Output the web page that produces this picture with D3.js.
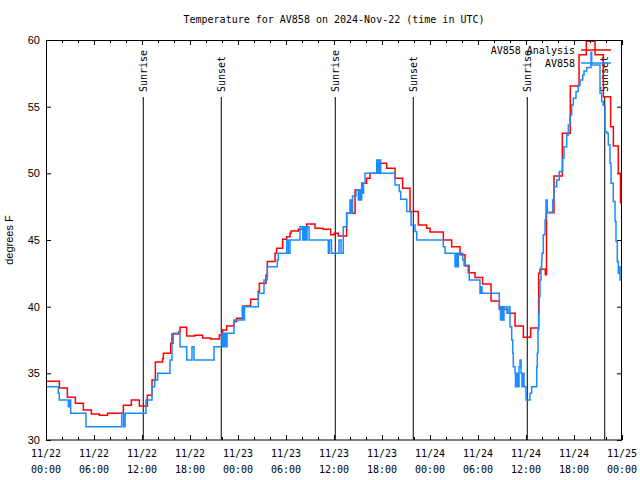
<!DOCTYPE html>
<html><head><meta charset="utf-8">
<script src="https://cdn.jsdelivr.net/npm/d3@7"></script>
<style>body{margin:0;background:#fff}svg{display:block}</style>
</head><body>
<svg id="chart" width="640" height="480"></svg>
<script>
const titleText = "Temperature for AV858 on 2024-Nov-22 (time in UTC)";
const yAxisLabel = "degrees F";
const seriesNames = ["AV858 Analysis", "AV858"];
const seriesColors = ["#ff0000", "#1a8cff"];
const startUTC = Date.UTC(2024, 10, 22);
const spanHours = 72;

// hours after 2024-11-22 00:00 UTC, step-after values (deg F)
const analysisHours = [0,1.67,2.67,3.67,4.67,5.67,6.67,7.7,9.67,10.67,11.67,12.67,13.25,13.67,14.58,14.67,15.58,15.75,16.58,16.75,17.58,18.6,19.58,20.6,21.67,22.08,22.58,23.5,23.83,24.58,25.58,26.54,26.67,27.5,27.67,28.63,28.83,29.58,30.08,30.5,30.63,31.54,32.58,33.63,34.63,35.58,36.0,36.54,37.58,38.63,39.46,40.08,40.5,41.75,42.58,43.63,44.58,45.5,46.54,47.58,48.0,49.67,50.71,51.75,52.38,52.79,53.63,54.58,55.63,56.67,57.67,58.63,59.67,60.58,61.58,61.75,62.42,62.56,63.5,64.54,65.54,66.63,67.54,68.63,69.67,70.58,70.92,71.54,71.81,72];
const analysisTemps = [34.4,33.9,33.2,32.75,32.25,31.95,31.85,32.0,32.6,33.0,32.55,33.35,34.5,35.85,36.1,36.5,37.25,37.95,38.1,38.45,37.8,37.85,37.65,37.58,37.88,38.25,38.55,38.88,39.13,40.05,40.55,41.13,41.75,42.38,43.38,44.0,44.38,45.05,45.25,45.5,45.68,45.8,46.2,45.88,45.8,45.4,45.5,45.3,47.0,48.75,49.25,49.63,50.0,50.75,50.38,49.63,48.88,47.13,46.13,45.88,45.6,45.0,44.5,43.9,43.05,42.55,42.18,41.7,40.43,39.8,39.5,38.55,37.7,38.4,42.5,42.8,42.4,47.05,49.8,53.0,56.55,58.9,59.9,58.9,55.75,53.5,52.05,50.0,47.8,47.8];

const obsHours = [0,1.54,1.66,2.79,2.94,3.09,5.0,9.46,9.69,9.88,12.5,13.25,13.59,13.96,15.5,15.75,15.91,16.75,17.59,18.25,18.5,21.0,22.0,22.13,22.31,22.5,22.63,23.5,24.54,24.69,24.81,26.54,27.25,27.66,28.91,29.04,30.09,30.29,30.5,31.75,32.09,32.25,32.44,32.63,32.88,35.29,35.44,35.69,36.63,36.88,37.16,37.59,38.0,38.13,38.31,38.75,39.04,39.19,39.38,39.46,39.56,39.69,39.88,41.34,41.5,41.63,41.84,43.63,44.16,44.34,45.09,45.63,46.13,46.34,49.66,49.88,51.13,51.31,51.44,51.54,52.09,52.25,52.91,54.25,54.38,54.5,56.66,56.81,56.94,57.13,57.25,57.63,57.88,58.0,58.21,58.34,58.41,58.63,58.69,58.88,59.04,59.13,59.25,59.38,59.5,59.63,59.75,60.0,60.5,60.71,61.34,61.41,61.5,61.59,61.66,61.75,61.88,61.96,62.0,62.16,62.38,62.5,62.66,63.34,63.5,63.84,64.16,64.59,64.75,65.09,65.29,65.5,65.71,65.91,66.25,66.54,66.75,67.09,67.25,67.59,68.13,68.21,69.25,69.46,69.66,69.88,70.09,70.29,70.5,70.63,70.91,71.13,71.25,71.41,71.54,71.63,71.75,71.85];
const obsTemps = [34.0,33.5,33.0,32.5,33.0,32.0,31.0,32.0,31.0,32.0,33.0,34.0,34.5,35.0,36.0,37.25,38.0,37.0,36.0,37.0,36.0,37.0,38.0,37.0,38.0,37.0,38.0,39.0,40.0,39.0,40.0,41.0,42.0,43.0,43.5,44.0,45.0,44.0,45.0,46.0,45.0,46.0,45.0,46.0,45.0,44.0,45.0,44.0,45.0,44.0,46.0,47.0,48.0,47.0,48.3,48.75,48.0,48.75,48.0,49.25,48.5,49.25,50.0,51.0,50.0,51.0,50.0,49.13,48.63,48.05,47.13,46.13,45.63,45.0,44.5,44.0,43.0,44.0,43.0,44.0,43.5,43.1,42.0,41.0,41.5,41.0,40.0,39.0,40.0,39.0,40.0,39.5,40.0,38.5,37.5,36.5,35.5,35.0,34.0,35.0,34.0,35.5,36.0,35.0,34.0,35.0,34.0,33.0,33.5,34.0,35.5,36.5,38.25,39.5,40.75,42.0,43.0,43.5,44.0,45.4,46.5,48.0,47.08,48.0,49.0,49.5,50.13,51.13,52.0,52.88,53.63,54.38,55.13,55.63,56.13,56.63,57.0,57.38,57.68,57.93,59.08,58.13,56.0,55.38,55.08,53.13,53.0,52.13,50.75,49.25,47.88,46.38,44.88,43.38,42.5,43.0,42.0,42.0];

const sunHours = [12.16, 21.91, 36.16, 45.91, 60.16, 69.84];
const sunLabels = ["Sunrise", "Sunset", "Sunrise", "Sunset", "Sunrise", "Sunset"];
const yTickValues = [30, 35, 40, 45, 50, 55, 60];
const majorStepHours = 6;
const minorStepHours = 2;

const toDate = h => new Date(startUTC + h * 3600e3);
const svg = d3.select("#chart");
const mono = "'DejaVu Sans Mono', 'Liberation Mono', monospace";
const sans = "'Liberation Sans', Arial, sans-serif";

const x = d3.scaleUtc().domain([toDate(0), toDate(spanHours)]).range([46, 622]);
const y = d3.scaleLinear().domain([30, 60]).range([440, 40]);

const majorTicks = d3.range(0, spanHours + 0.001, majorStepHours).map(toDate);
const minorTicks = d3.range(0, spanHours + 0.001, minorStepHours).filter(h => h % majorStepHours !== 0).map(toDate);

// Title
svg.append("text").attr("x", 334).attr("y", 23).attr("text-anchor", "middle")
  .style("font-family", mono).style("font-size", "10px").text(titleText);

// Y label
svg.append("text").attr("transform", "translate(13,240) rotate(-90)").attr("text-anchor", "middle")
  .style("font-family", sans).style("font-size", "11px").text(yAxisLabel);

// Axes
function styleAxis(g) { g.select(".domain").remove(); g.selectAll("line").attr("stroke", "#000"); }
const gB = svg.append("g").attr("transform", "translate(0,440)")
  .call(d3.axisBottom(x).tickValues(majorTicks).tickSizeInner(-5).tickSizeOuter(0).tickFormat(""));
styleAxis(gB);
const gBm = svg.append("g").attr("transform", "translate(0,440)")
  .call(d3.axisBottom(x).tickValues(minorTicks).tickSizeInner(-3).tickSizeOuter(0).tickFormat(""));
styleAxis(gBm);
const gT = svg.append("g").attr("transform", "translate(0,40)")
  .call(d3.axisTop(x).tickValues(majorTicks).tickSizeInner(-5).tickSizeOuter(0).tickFormat(""));
styleAxis(gT);
const gTm = svg.append("g").attr("transform", "translate(0,40)")
  .call(d3.axisTop(x).tickValues(minorTicks).tickSizeInner(-3).tickSizeOuter(0).tickFormat(""));
styleAxis(gTm);
const gL = svg.append("g").attr("transform", "translate(46,0)")
  .call(d3.axisLeft(y).tickValues(yTickValues).tickSizeInner(-5).tickSizeOuter(0).tickPadding(6));
styleAxis(gL);
gL.selectAll("text").style("font-family", sans).style("font-size", "11px").attr("fill", "#000");
const gR = svg.append("g").attr("transform", "translate(622,0)")
  .call(d3.axisRight(y).tickValues(yTickValues).tickSizeInner(-5).tickSizeOuter(0).tickFormat(""));
styleAxis(gR);

// x tick labels (two lines)
const fmtDay = d3.utcFormat("%m/%d"), fmtTime = d3.utcFormat("%H:%M");
svg.append("g").selectAll("text").data(majorTicks).join("text")
  .attr("x", d => x(d)).attr("y", 457).attr("text-anchor", "middle")
  .style("font-family", mono).style("font-size", "10px")
  .each(function(d) {
    const t = d3.select(this);
    t.append("tspan").attr("x", x(d)).attr("y", 457).text(fmtDay(d));
    t.append("tspan").attr("x", x(d)).attr("y", 473).text(fmtTime(d));
  });

// Sun lines and labels
const sun = svg.append("g");
sun.selectAll("line").data(sunHours).join("line")
  .attr("x1", d => x(toDate(d))).attr("x2", d => x(toDate(d)))
  .attr("y1", 97).attr("y2", 440).attr("stroke", "#000").attr("stroke-width", 1);
sun.selectAll("text").data(sunHours).join("text")
  .attr("transform", d => `translate(${x(toDate(d))},92) rotate(-90)`)
  .attr("dy", "0.35em").attr("text-anchor", "start")
  .style("font-family", mono).style("font-size", "10px")
  .text((d, i) => sunLabels[i]);

// Data
const line = d3.line().x(d => x(toDate(d[0]))).y(d => y(d[1])).curve(d3.curveStepAfter);
const series = [
  d3.zip(analysisHours, analysisTemps),
  d3.zip(obsHours, obsTemps)
];
series.forEach((s, i) => {
  svg.append("path").datum(s).attr("d", line).attr("fill", "none")
    .attr("stroke", seriesColors[i]).attr("stroke-width", 1.5);
});

// Border
svg.append("rect").attr("x", 46.5).attr("y", 40.5).attr("width", 575).attr("height", 399.5)
  .attr("fill", "none").attr("stroke", "#000").attr("stroke-width", 1);

// Legend
const leg = svg.append("g");
seriesNames.forEach((n, i) => {
  const yy = 50 + i * 13;
  leg.append("text").attr("x", 575).attr("y", yy).attr("dy", "0.35em").attr("text-anchor", "end")
    .style("font-family", mono).style("font-size", "10px").text(n);
  leg.append("line").attr("x1", 581).attr("x2", 611).attr("y1", yy).attr("y2", yy)
    .attr("stroke", seriesColors[i]).attr("stroke-width", 1.5);
});
</script>
</body></html>
